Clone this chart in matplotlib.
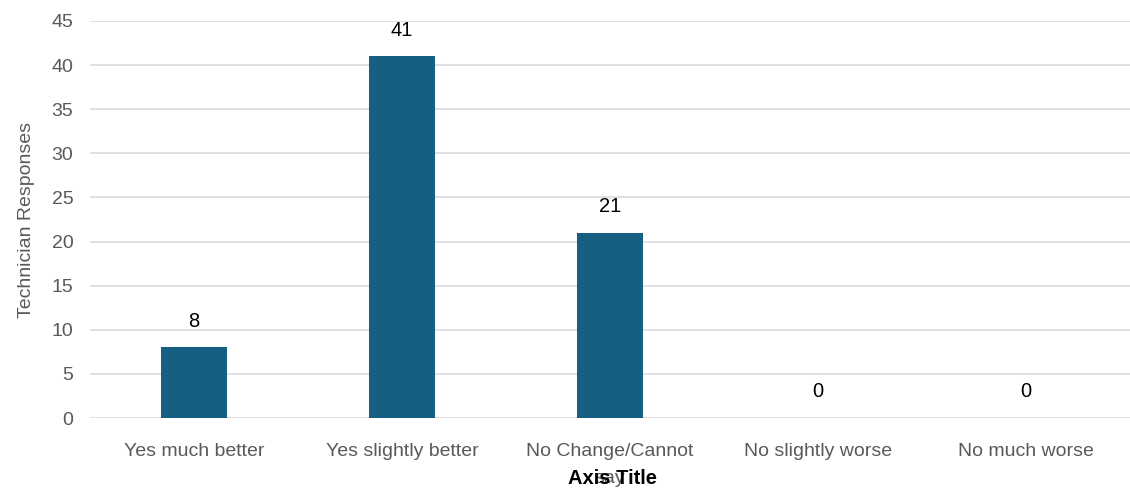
import matplotlib
matplotlib.use("Agg")
import matplotlib.pyplot as plt

# data
categories = ["Yes much better", "Yes slightly better", "No Change/Cannot\nsay",
              "No slightly worse", "No much worse"]
responses = [8, 41, 21, 0, 0]

plt.rcParams['font.family'] = ['Liberation Sans', 'DejaVu Sans']

fig = plt.figure(figsize=(11.3, 4.94), dpi=100)
ax = fig.add_axes([0.0796, 0.1538, 0.9204, 0.8037])

x = range(len(categories))
bars = ax.bar(x, responses, width=0.316, color='#156082', zorder=3)

for xi, v in zip(x, responses):
    ax.annotate(str(v), (xi, v), xytext=(0, 12), textcoords='offset points',
                ha='center', va='bottom', fontsize=14.5, color='black')

ax.set_xlim(-0.5, len(categories) - 0.5)
ax.set_ylim(0, 45)
ax.set_yticks(range(0, 46, 5))
ax.set_xticks(list(x))
ax.set_xticklabels(categories, fontsize=14, color='#595959', va='top',
                   linespacing=1.75)
ax.tick_params(axis='y', labelsize=14, labelcolor='#595959', length=0, pad=12)
ax.tick_params(axis='x', length=0, pad=18)

ax.grid(axis='y', color='#D9D9D9', linewidth=1.2, zorder=0)
for s in ax.spines.values():
    s.set_visible(False)

ax.set_ylabel("Technician Responses", fontsize=14, color='#595959', labelpad=12)
fig.text(0.542, 0.032, "Axis Title", ha='center', va='center', fontsize=14.5,
         fontweight='bold', color='black')

fig.savefig("out.png", dpi=100)
